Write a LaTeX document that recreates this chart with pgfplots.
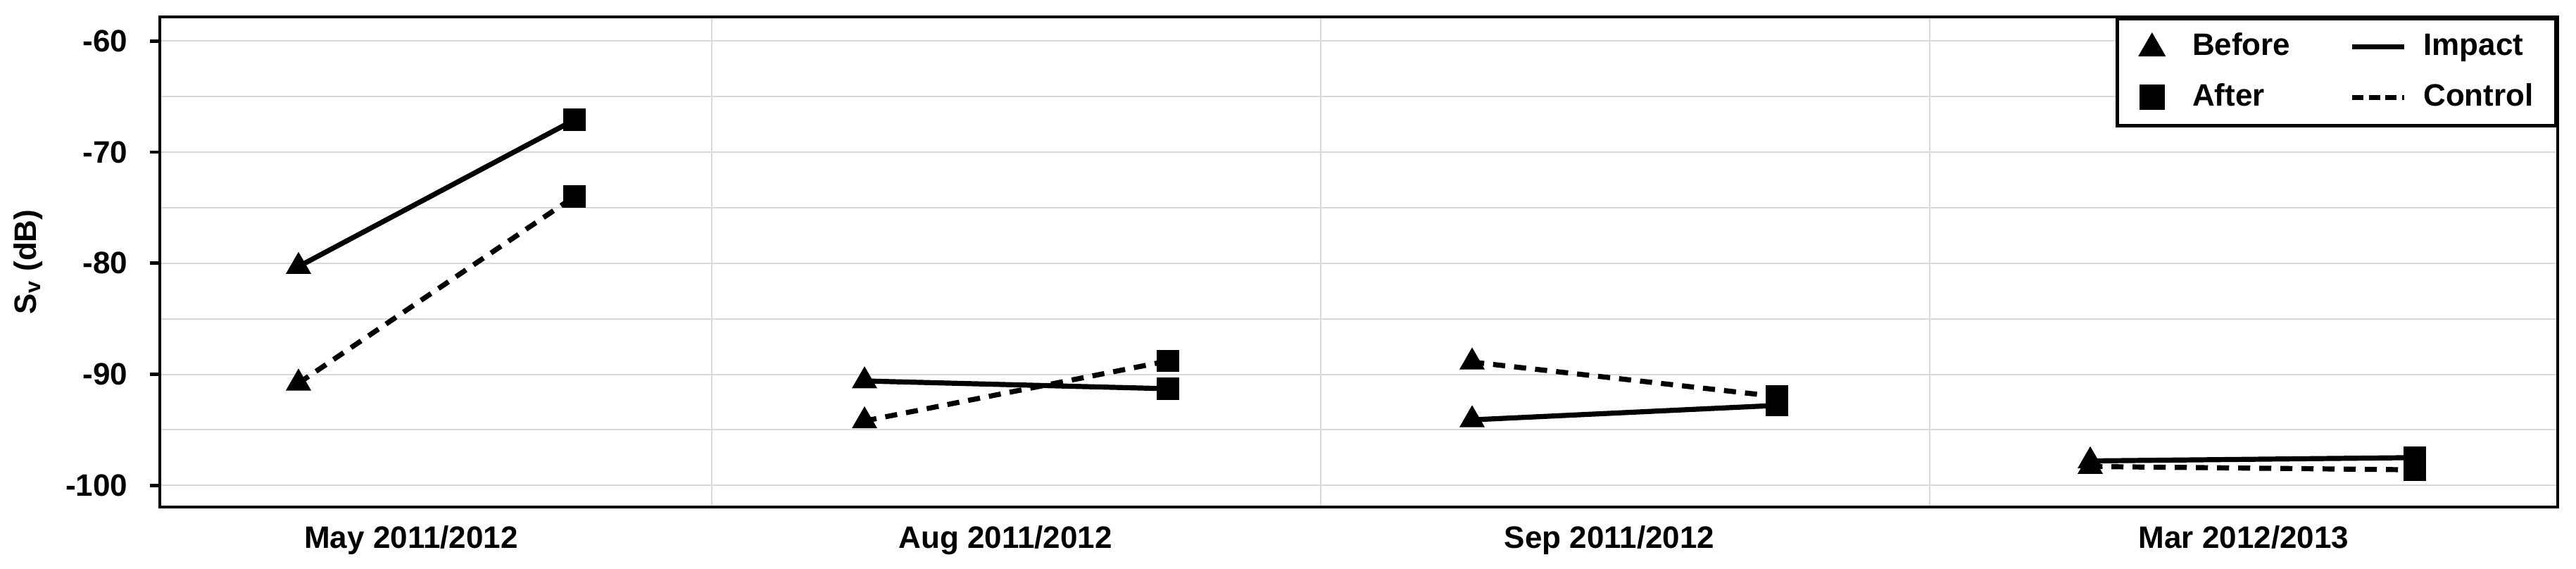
\documentclass[border=0pt]{standalone}
\usepackage{pgfplots}
\pgfplotsset{compat=1.18}
\usepackage{fontspec}
\setmainfont{Liberation Sans}
\newcommand\lbl{\fontsize{11}{13}\selectfont\bfseries}
\begin{document}
\begin{tikzpicture}
% page = 3659 x 807 px at 0.25pt per px
\useasboundingbox (-56.75pt,-21.75pt) rectangle (858pt,180pt);
\begin{axis}[
    at={(0pt,0pt)}, anchor=south west,
    scale only axis, width=851.5pt, height=174pt,
    xmin=227, xmax=3633, ymin=-101.95, ymax=-57.83,
    axis line style={line width=1.2pt, black},
    tick align=outside,
    major tick length=3.5pt, minor tick length=0pt,
    xtick={584,1428,2286,3187},
    xticklabels={May 2011/2012, Aug 2011/2012, Sep 2011/2012, Mar 2012/2013},
    xtick style={draw=none},
    minor xtick={1011,1876,2741},
    xmajorgrids=false, xminorgrids=true,
    ytick={-100,-90,-80,-70,-60},
    yticklabels={-100,-90,-80,-70,-60},
    minor ytick={-95,-85,-75,-65},
    ymajorgrids=true, yminorgrids=true,
    ytick style={line width=1.2pt, black},
    ytick pos=left,
    major grid style={line width=0.5pt, gray!30},
    minor grid style={line width=0.5pt, gray!30},
    xticklabel style={font=\lbl, inner sep=0pt, anchor=north, yshift=-3pt},
    yticklabel style={font=\lbl, inner sep=0pt, anchor=east, xshift=-7.75pt},
    ylabel={S\textsubscript{v} (dB)},
    ylabel style={font=\lbl, at={(axis description cs:-0.0549,0.5)}, anchor=center},
    legend style={at={(rel axis cs:1,1)}, anchor=north east, draw=black,
        line width=1.2pt, fill=white, inner xsep=4.4pt, inner ysep=1pt,
        font=\lbl, legend columns=2,
        /tikz/every even column/.append style={column sep=17.45pt},
        nodes={inner xsep=3.58pt, inner ysep=4pt, text height=8pt, text depth=2pt}},
    legend cell align=left,
]
\addlegendimage{legend image code/.code={
    \path[draw=none] (0pt,0pt) -- (18.75pt,0pt);
    \draw[black, fill=black, line width=0.4pt, mark size=5.3pt] plot[mark=triangle*, only marks] coordinates {(8pt,-0.6pt)};}}
\addlegendimage{legend image code/.code={
    \path[draw=none] (0pt,0pt) -- (21.7pt,0pt);
    \draw[black, line width=1.8pt] (0pt,0pt) -- (18.5pt,0pt);}}
\addlegendimage{legend image code/.code={
    \path[draw=none] (0pt,0pt) -- (18.75pt,0pt);
    \draw[black, fill=black, line width=0.4pt, mark size=4.3pt] plot[mark=square*, only marks] coordinates {(8pt,0pt)};}}
\addlegendimage{legend image code/.code={
    \path[draw=none] (0pt,0pt) -- (21.7pt,0pt);
    \draw[black, line width=1.8pt, dash pattern=on 4pt off 1.9pt] (0pt,0pt) -- (18.5pt,0pt);}}
\legend{Before, Impact, After, Control}

% Impact (solid)
\addplot[black, line width=1.8pt, no marks, forget plot] coordinates {(424,-80.3) (816,-67.1)};
\addplot[black, line width=1.8pt, no marks, forget plot] coordinates {(1228,-90.6) (1659,-91.3)};
\addplot[black, line width=1.8pt, no marks, forget plot] coordinates {(2091,-94.1) (2524,-92.8)};
\addplot[black, line width=1.8pt, no marks, forget plot] coordinates {(2969,-97.8) (3430,-97.5)};
% Control (dashed)
\addplot[black, line width=1.8pt, dash pattern=on 4.3pt off 3.2pt, no marks, forget plot] coordinates {(424,-90.8) (816,-74.0)};
\addplot[black, line width=1.8pt, dash pattern=on 4.3pt off 3.2pt, no marks, forget plot] coordinates {(1228,-94.2) (1659,-88.8)};
\addplot[black, line width=1.8pt, dash pattern=on 4.3pt off 3.2pt, no marks, forget plot] coordinates {(2091,-88.9) (2524,-92.0)};
\addplot[black, line width=1.8pt, dash pattern=on 4.3pt off 3.2pt, no marks, forget plot] coordinates {(2969,-98.3) (3430,-98.6)};
% Before
\addplot[black, only marks, mark=triangle*, mark size=4.8pt, forget plot] coordinates {
    (424,-80.3) (424,-90.8) (1228,-90.6) (1228,-94.2)
    (2091,-94.1) (2091,-88.9) (2969,-97.8) (2969,-98.3)};
% After
\addplot[black, only marks, mark=square*, mark size=3.75pt, forget plot] coordinates {
    (816,-67.1) (816,-74.0) (1659,-91.3) (1659,-88.8)
    (2524,-92.8) (2524,-92.0) (3430,-97.5) (3430,-98.6)};
\end{axis}
\end{tikzpicture}
\end{document}
